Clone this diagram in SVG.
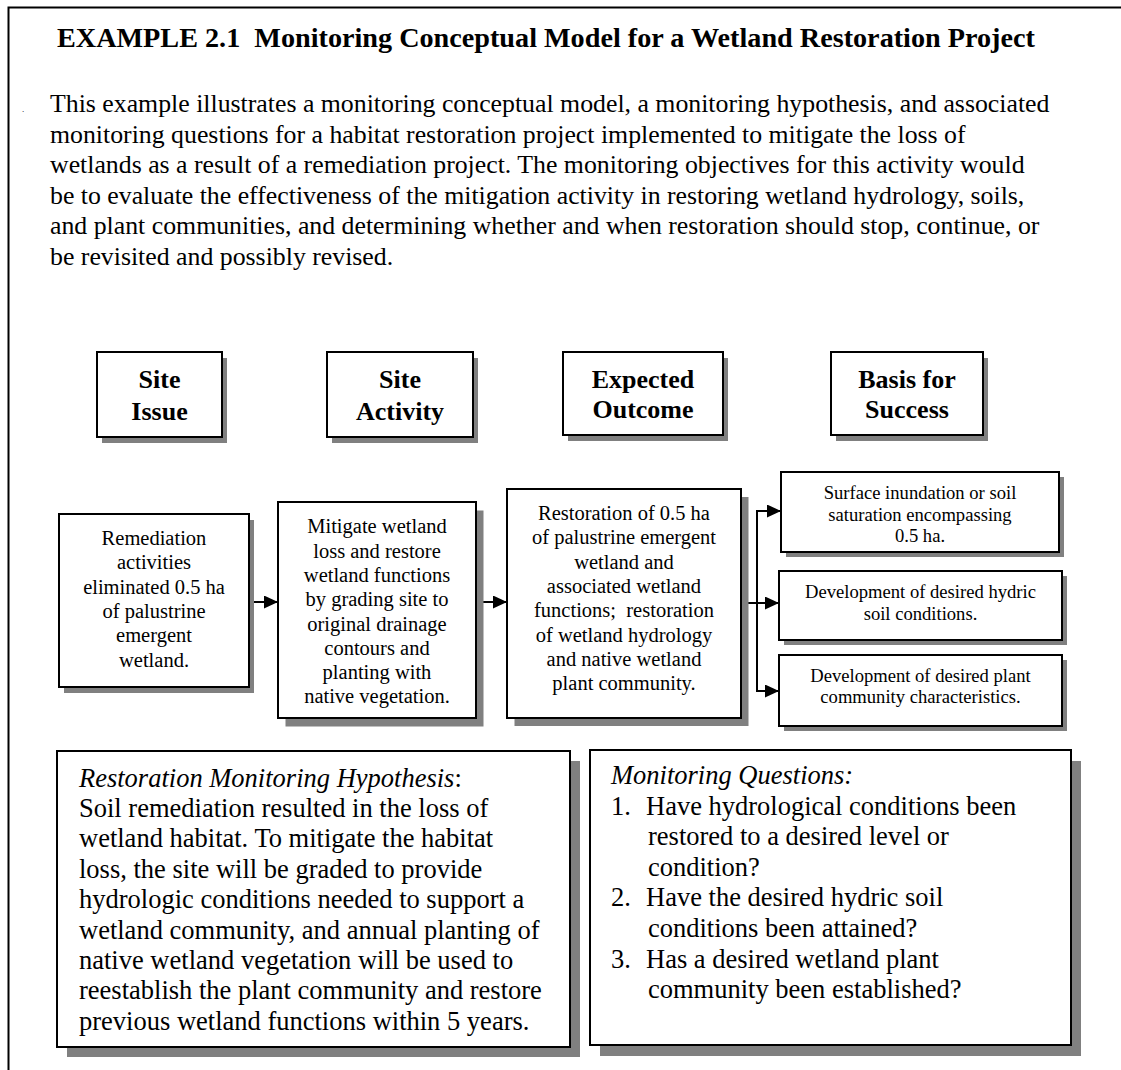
<svg xmlns="http://www.w3.org/2000/svg" width="1121" height="1070" viewBox="0 0 1121 1070">
  <style>
    text { font-family: "Liberation Serif", "Times New Roman", serif; fill: #000; }
    .title { font-size: 28.2px; font-weight: bold; }
    .para { font-size: 25.8px; }
    .head { font-size: 26px; font-weight: bold; text-anchor: middle; }
    .body { font-size: 20.5px; text-anchor: middle; }
    .small { font-size: 18.6px; text-anchor: middle; }
    .big { font-size: 26.5px; }
    .it { font-style: italic; }
    .box { fill: #fff; stroke: #000; stroke-width: 2; }
    .shadow { fill: #808080; }
    .conn { fill: none; stroke: #000; stroke-width: 2; }
  </style>
  <defs>
    <marker id="ah" viewBox="0 0 14 13" refX="14" refY="6.5" markerWidth="14" markerHeight="13" markerUnits="userSpaceOnUse" orient="auto">
      <path d="M0,0 L14,6.5 L0,13 Z" fill="#000"/>
    </marker>
  </defs>

  <rect width="1121" height="1070" fill="#fff"/>

  <!-- open page frame: left and top rules -->
  <path d="M8.5,1070 V7.5 H1121" fill="none" stroke="#000" stroke-width="2"/>

  <g id="heading">
    <text class="title" x="57" y="47" xml:space="preserve">EXAMPLE 2.1  Monitoring Conceptual Model for a Wetland Restoration Project</text>
  </g>

  <g id="intro">
    <text x="22" y="112" font-size="9px">.</text>
    <text class="para" x="50" y="112">This example illustrates a monitoring conceptual model, a monitoring hypothesis, and associated</text>
    <text class="para" x="50" y="142.6">monitoring questions for a habitat restoration project implemented to mitigate the loss of</text>
    <text class="para" x="50" y="173.2">wetlands as a result of a remediation project. The monitoring objectives for this activity would</text>
    <text class="para" x="50" y="203.8">be to evaluate the effectiveness of the mitigation activity in restoring wetland hydrology, soils,</text>
    <text class="para" x="50" y="234.4">and plant communities, and determining whether and when restoration should stop, continue, or</text>
    <text class="para" x="50" y="265">be revisited and possibly revised.</text>
  </g>

  <!-- column headings -->
  <g id="head-issue">
    <rect class="shadow" x="102" y="358" width="125" height="85"/>
    <rect class="box" x="97" y="352" width="125" height="85"/>
    <text class="head" x="159.5" y="388">Site</text>
    <text class="head" x="159.5" y="420">Issue</text>
  </g>
  <g id="head-activity">
    <rect class="shadow" x="332" y="358" width="146" height="85"/>
    <rect class="box" x="327" y="352" width="146" height="85"/>
    <text class="head" x="400" y="388">Site</text>
    <text class="head" x="400" y="420">Activity</text>
  </g>
  <g id="head-outcome">
    <rect class="shadow" x="568" y="358" width="160" height="83"/>
    <rect class="box" x="563" y="352" width="160" height="83"/>
    <text class="head" x="643" y="388">Expected</text>
    <text class="head" x="643" y="418">Outcome</text>
  </g>
  <g id="head-success">
    <rect class="shadow" x="836" y="358" width="152" height="83"/>
    <rect class="box" x="831" y="352" width="152" height="83"/>
    <text class="head" x="907" y="388">Basis for</text>
    <text class="head" x="907" y="418">Success</text>
  </g>

  <!-- connectors -->
  <g id="connectors">
    <path class="conn" d="M253,602 H278" marker-end="url(#ah)"/>
    <path class="conn" d="M483,602 H507" marker-end="url(#ah)"/>
    <path class="conn" d="M748,603 H779" marker-end="url(#ah)"/>
    <path class="conn" d="M757,510 V692"/>
    <path class="conn" d="M756,511 H781" marker-end="url(#ah)"/>
    <path class="conn" d="M756,691 H779" marker-end="url(#ah)"/>
  </g>

  <g id="issue">
    <rect class="shadow" x="64" y="520" width="190" height="173"/>
    <rect class="box" x="59" y="514" width="190" height="173"/>
    <text class="body" x="154" y="545">Remediation</text>
    <text class="body" x="154" y="569.3">activities</text>
    <text class="body" x="154" y="593.6">eliminated 0.5 ha</text>
    <text class="body" x="154" y="617.9">of palustrine</text>
    <text class="body" x="154" y="642.2">emergent</text>
    <text class="body" x="154" y="666.5">wetland.</text>
  </g>

  <g id="activity">
    <rect class="shadow" x="285.5" y="510.5" width="198" height="216"/>
    <rect class="box" x="278" y="502" width="198" height="216"/>
    <text class="body" x="377" y="533.3">Mitigate wetland</text>
    <text class="body" x="377" y="557.6">loss and restore</text>
    <text class="body" x="377" y="581.9">wetland functions</text>
    <text class="body" x="377" y="606.2">by grading site to</text>
    <text class="body" x="377" y="630.5">original drainage</text>
    <text class="body" x="377" y="654.8">contours and</text>
    <text class="body" x="377" y="679.1">planting with</text>
    <text class="body" x="377" y="703.4">native vegetation.</text>
  </g>

  <g id="outcome">
    <rect class="shadow" x="514.5" y="497" width="234" height="229"/>
    <rect class="box" x="507" y="489" width="234" height="229"/>
    <text class="body" x="624" y="520">Restoration of 0.5 ha</text>
    <text class="body" x="624" y="544.3">of palustrine emergent</text>
    <text class="body" x="624" y="568.6">wetland and</text>
    <text class="body" x="624" y="592.9">associated wetland</text>
    <text class="body" x="624" y="617.2" xml:space="preserve">functions;  restoration</text>
    <text class="body" x="624" y="641.5">of wetland hydrology</text>
    <text class="body" x="624" y="665.8">and native wetland</text>
    <text class="body" x="624" y="690.1">plant community.</text>
  </g>

  <g id="success-hydrology">
    <rect class="shadow" x="786" y="477" width="278" height="80"/>
    <rect class="box" x="781" y="472" width="278" height="80"/>
    <text class="small" x="920" y="499.3">Surface inundation or soil</text>
    <text class="small" x="920" y="520.6">saturation encompassing</text>
    <text class="small" x="920" y="541.9">0.5 ha.</text>
  </g>
  <g id="success-soil">
    <rect class="shadow" x="784" y="576" width="283" height="69"/>
    <rect class="box" x="779" y="571" width="283" height="69"/>
    <text class="small" x="920.5" y="598.3">Development of desired hydric</text>
    <text class="small" x="920.5" y="619.6">soil conditions.</text>
  </g>
  <g id="success-plants">
    <rect class="shadow" x="784" y="660" width="283" height="71"/>
    <rect class="box" x="779" y="655" width="283" height="71"/>
    <text class="small" x="920.5" y="681.7">Development of desired plant</text>
    <text class="small" x="920.5" y="703">community characteristics.</text>
  </g>

  <g id="hypothesis">
    <rect class="shadow" x="67" y="761" width="513" height="296"/>
    <rect class="box" x="57" y="751" width="513" height="296"/>
    <text class="big" x="79" y="786.5"><tspan class="it">Restoration Monitoring Hypothesis</tspan>:</text>
    <text class="big" x="79" y="816.9">Soil remediation resulted in the loss of</text>
    <text class="big" x="79" y="847.3">wetland habitat. To mitigate the habitat</text>
    <text class="big" x="79" y="877.7">loss, the site will be graded to provide</text>
    <text class="big" x="79" y="908.1">hydrologic conditions needed to support a</text>
    <text class="big" x="79" y="938.5">wetland community, and annual planting of</text>
    <text class="big" x="79" y="968.9">native wetland vegetation will be used to</text>
    <text class="big" x="79" y="999.3">reestablish the plant community and restore</text>
    <text class="big" x="79" y="1029.7">previous wetland functions within 5 years.</text>
  </g>

  <g id="questions">
    <rect class="shadow" x="600" y="761" width="481" height="295"/>
    <rect class="box" x="590" y="750" width="481" height="295"/>
    <text class="big it" x="611" y="784">Monitoring Questions:</text>
    <text class="big" x="611" y="814.6">1.</text>
    <text class="big" x="646" y="814.6">Have hydrological conditions been</text>
    <text class="big" x="648" y="845.2">restored to a desired level or</text>
    <text class="big" x="648" y="875.8">condition?</text>
    <text class="big" x="611" y="906.4">2.</text>
    <text class="big" x="646" y="906.4">Have the desired hydric soil</text>
    <text class="big" x="648" y="937">conditions been attained?</text>
    <text class="big" x="611" y="967.6">3.</text>
    <text class="big" x="646" y="967.6">Has a desired wetland plant</text>
    <text class="big" x="648" y="998.2">community been established?</text>
  </g>
</svg>
